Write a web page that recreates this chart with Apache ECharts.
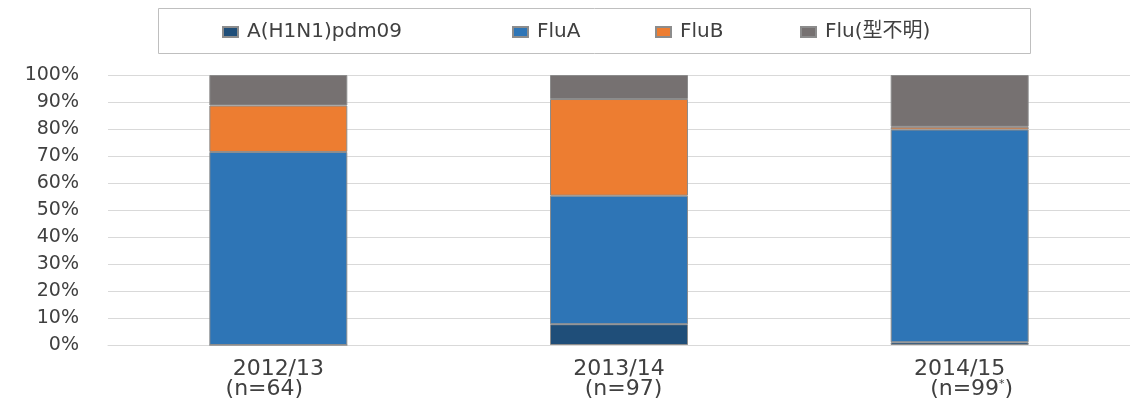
<!DOCTYPE html>
<html>
<head>
<meta charset="utf-8">
<script src="https://cdn.jsdelivr.net/npm/echarts@6/dist/echarts.min.js"></script>
<style>
  html, body { margin: 0; padding: 0; background: #fff; }
  #chart { width: 1130px; height: 401px; }
</style>
</head>
<body>
<div id="chart"></div>
<script>
// シーズン別 陽性検体の型別割合 (%)
const seasons = ['2012/13', '2013/14', '2014/15'];
const sampleSizes = ['(n=64', '(n=97', '(n=99'];
const sampleMarks = ['', '', '*'];
const h1n1 = [0, 7.7, 1.0];
const fluA = [71.5, 47.6, 78.8];
const fluB = [17.2, 35.8, 1.0];
const fluUnknown = [11.3, 8.9, 19.2];
const yTicks = [0, 10, 20, 30, 40, 50, 60, 70, 80, 90, 100];

const seriesNames = ['A(H1N1)pdm09', 'FluA', 'FluB', 'Flu(型不明)'];
const seriesColors = ['#1f4e79', '#2e75b6', '#ed7d31', '#767171'];
const seriesData = [h1n1, fluA, fluB, fluUnknown];
const legendLeft = [222, 512, 655, 800];

const textColor = '#404040';
const fontFamily = '"DejaVu Sans", Verdana, "Noto Sans CJK JP", sans-serif';

const chart = echarts.init(document.getElementById('chart'));

const labelStyle = (extra) => Object.assign(
  { fontSize: 22, color: textColor, lineHeight: 20, fontFamily: fontFamily },
  extra || {}
);

const option = {
  animation: false,
  textStyle: { fontFamily: fontFamily },
  graphic: [
    {
      // 凡例の枠
      type: 'rect',
      shape: { x: 158.5, y: 8.5, width: 872, height: 45 },
      style: { fill: 'none', stroke: '#bfbfbf', lineWidth: 1 },
      silent: true
    }
  ],
  legend: seriesNames.map((name, i) => ({
    data: [name],
    left: legendLeft[i],
    top: 22,
    icon: 'rect',
    itemWidth: 15,
    itemHeight: 10,
    itemGap: 8,
    padding: 0,
    selectedMode: false,
    textStyle: { color: textColor, fontSize: 20, fontFamily: fontFamily, padding: [0, 0, 0, 4] }
  })),
  grid: {
    left: 108,
    right: 0,
    top: 75,
    bottom: 56
  },
  xAxis: {
    type: 'category',
    data: seasons,
    axisLine: { lineStyle: { color: '#d9d9d9', width: 1 } },
    axisTick: { show: false },
    axisLabel: {
      margin: 14,
      interval: 0,
      formatter: (value, idx) =>
        `{y|${value}}\n{n${idx}|${sampleSizes[idx]}}{s|${sampleMarks[idx]}}{n${idx}e|)}`,
      rich: {
        y: labelStyle(),
        n0: labelStyle(),
        n0e: labelStyle({ padding: [0, 28, 0, 0] }),
        n1: labelStyle({ padding: [0, 0, 0, 9] }),
        n1e: labelStyle(),
        n2: labelStyle({ padding: [0, 0, 0, 24] }),
        n2e: labelStyle(),
        s: labelStyle({ fontSize: 11, verticalAlign: 'top' })
      }
    }
  },
  yAxis: {
    type: 'value',
    min: 0,
    max: 100,
    interval: 10,
    axisLine: { show: false },
    axisTick: { show: false },
    splitLine: { lineStyle: { color: '#d9d9d9', width: 1 } },
    axisLabel: {
      margin: 29,
      color: textColor,
      fontSize: 19,
      fontFamily: fontFamily,
      formatter: v => (yTicks.includes(v) ? v + '%' : '')
    }
  },
  series: seriesNames.map((name, i) => ({
    name: name,
    type: 'bar',
    stack: 'total',
    barWidth: '40.5%',
    data: seriesData[i],
    itemStyle: {
      color: seriesColors[i],
      borderColor: '#8c8c8c',
      borderWidth: 1
    },
    emphasis: { disabled: true }
  }))
};

chart.setOption(option);
</script>
</body>
</html>
